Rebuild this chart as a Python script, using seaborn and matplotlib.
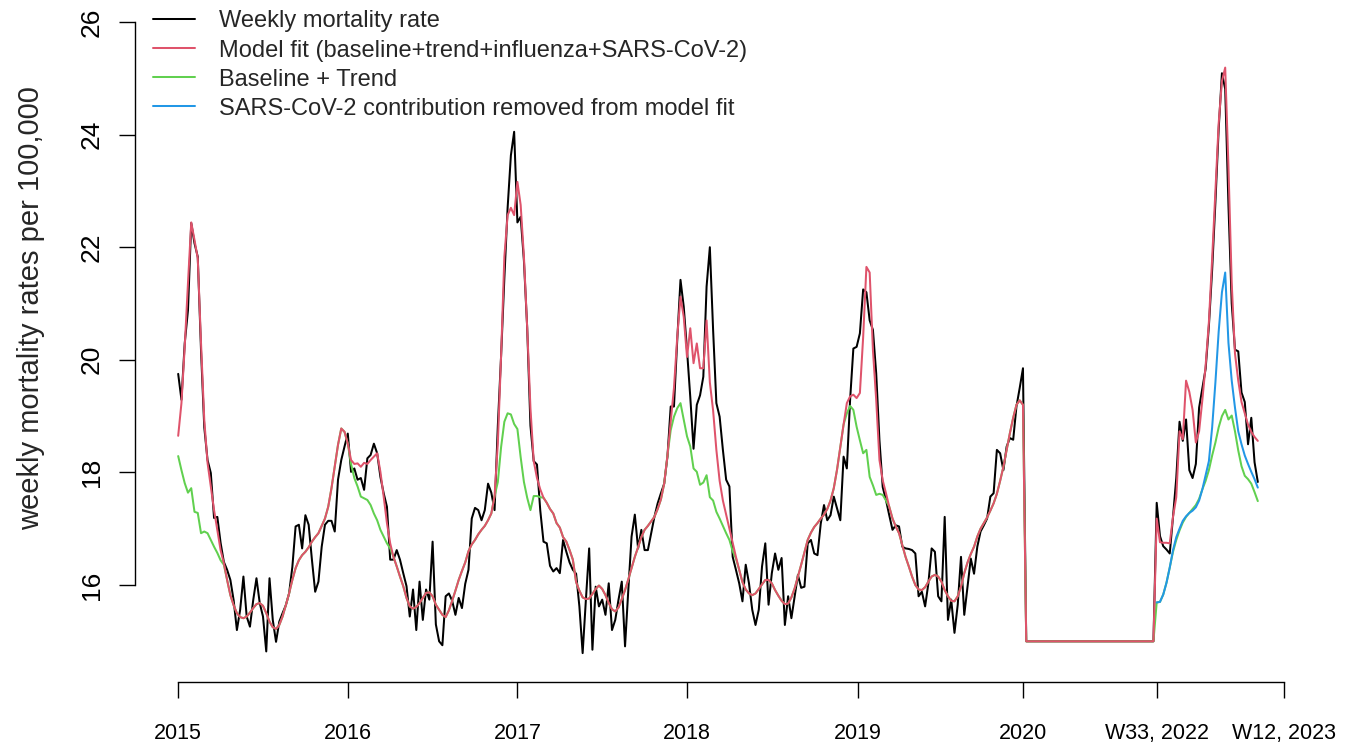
import numpy as np
import pandas as pd
import matplotlib
matplotlib.use("Agg")
import matplotlib.pyplot as plt
import seaborn as sns
from matplotlib.lines import Line2D

# ---------------- data ----------------
# weekly index: 0 = first week of 2015 ... 259 = first week of 2020,
# 260-299 = gap drawn at the floor value, 300 = W33 2022 ... 331
tick_pos = [0, 52, 104, 156, 208.5, 259, 300, 339]
tick_labels = ["2015", "2016", "2017", "2018", "2019", "2020", "W33, 2022", "W12, 2023"]

black_2015_2020 = [
    19.75, 19.29, 20.29, 20.88, 22.43, 22.07, 21.83, 20.17, 18.80, 18.22,
    17.99, 17.19, 17.21, 16.75, 16.41, 16.27, 16.09, 15.73, 15.20, 15.56,
    16.15, 15.44, 15.26, 15.73, 16.12, 15.68, 15.44, 14.82, 16.12, 15.38,
    14.99, 15.35, 15.50, 15.64, 15.85, 16.32, 17.04, 17.07, 16.65, 17.24,
    17.07, 16.45, 15.88, 16.06, 16.68, 17.07, 17.14, 17.14, 16.95, 17.87,
    18.22, 18.46, 18.69, 18.01, 18.07, 17.87, 17.90, 17.69, 18.25, 18.31,
    18.51, 18.34, 17.92, 17.63, 17.39, 16.45, 16.45, 16.62, 16.45, 16.21,
    15.98, 15.44, 15.92, 15.20, 16.06, 15.38, 15.92, 15.74, 16.77, 15.30,
    15.00, 14.93, 15.80, 15.85, 15.72, 15.47, 15.77, 15.59, 16.02, 16.27,
    17.18, 17.37, 17.33, 17.15, 17.33, 17.80, 17.64, 17.33, 18.83, 20.07,
    21.45, 22.70, 23.63, 24.05, 22.44, 22.54, 21.76, 20.57, 18.83, 18.20,
    18.14, 17.33, 16.77, 16.74, 16.34, 16.24, 16.30, 16.21, 16.80, 16.59,
    16.40, 16.27, 16.20, 15.62, 14.79, 15.74, 16.65, 14.85, 15.97, 15.62,
    15.74, 15.47, 16.03, 15.20, 15.38, 15.74, 16.06, 14.91, 15.91, 16.86,
    17.25, 16.65, 16.98, 16.62, 16.62, 16.92, 17.21, 17.45, 17.63, 17.80,
    18.28, 19.17, 19.17, 20.35, 21.42, 20.94, 20.17, 19.34, 18.42, 19.20,
    19.37, 19.70, 21.30, 22.00, 20.53, 19.23, 18.99, 18.40, 17.87, 17.75,
    16.50, 16.27, 16.03, 15.71, 16.36, 16.03, 15.56, 15.29, 15.56, 16.33,
    16.74, 15.65, 16.21, 16.56, 16.27, 16.48, 15.29, 15.80, 15.41, 15.80,
    16.18, 15.95, 15.97, 16.74, 16.80, 16.56, 16.53, 17.09, 17.42, 17.15,
    17.24, 17.57, 17.36, 17.15, 18.28, 18.07, 19.29, 20.20, 20.23, 20.47,
    21.25, 21.20, 20.70, 20.53, 19.76, 18.57, 17.74, 17.51, 17.24, 16.98,
    17.06, 17.04, 16.68, 16.65, 16.64, 16.62, 16.56, 15.80, 15.88, 15.62,
    16.03, 16.65, 16.59, 15.80, 15.71, 17.21, 15.38, 15.74, 15.15, 15.65,
    16.50, 15.47, 15.97, 16.47, 16.20, 16.68, 16.95, 17.06, 17.18, 17.57,
    17.63, 18.40, 18.34, 18.04, 18.46, 18.61, 18.58, 19.17, 19.50, 19.85,
]

model_2015_2020 = [
    18.65, 19.23, 20.23, 21.36, 22.44, 22.13, 21.80, 20.30, 18.93, 18.17,
    17.75, 17.33, 16.98, 16.62, 16.39, 16.09, 15.82, 15.64, 15.50, 15.43,
    15.41, 15.44, 15.51, 15.59, 15.66, 15.68, 15.63, 15.50, 15.35, 15.25,
    15.22, 15.29, 15.44, 15.64, 15.85, 16.09, 16.30, 16.44, 16.53, 16.59,
    16.67, 16.77, 16.85, 16.92, 17.05, 17.18, 17.39, 17.72, 18.10, 18.49,
    18.78, 18.72, 18.51, 18.22, 18.15, 18.16, 18.10, 18.17, 18.15, 18.22,
    18.28, 18.34, 18.01, 17.57, 17.10, 16.74, 16.50, 16.33, 16.15, 15.98,
    15.77, 15.62, 15.58, 15.61, 15.68, 15.77, 15.86, 15.87, 15.80, 15.65,
    15.56, 15.47, 15.43, 15.55, 15.72, 15.90, 16.09, 16.25, 16.40, 16.60,
    16.72, 16.80, 16.90, 16.98, 17.05, 17.15, 17.27, 17.58, 18.52, 20.07,
    21.83, 22.57, 22.70, 22.57, 23.16, 22.75, 21.83, 20.57, 19.14, 18.20,
    17.90, 17.70, 17.55, 17.46, 17.35, 17.27, 17.10, 17.02, 16.85, 16.77,
    16.62, 16.45, 16.05, 15.90, 15.78, 15.75, 15.76, 15.84, 15.93, 15.99,
    15.93, 15.82, 15.68, 15.57, 15.53, 15.60, 15.75, 15.91, 16.10, 16.30,
    16.50, 16.67, 16.85, 16.98, 17.05, 17.13, 17.21, 17.35, 17.52, 17.80,
    18.30, 18.90, 19.50, 20.40, 21.12, 20.76, 20.05, 20.56, 19.94, 20.29,
    19.85, 19.85, 20.70, 19.60, 19.10, 18.40, 17.85, 17.50, 17.25, 17.00,
    16.75, 16.50, 16.27, 16.05, 15.92, 15.85, 15.82, 15.85, 15.93, 16.01,
    16.09, 16.09, 16.03, 15.91, 15.81, 15.72, 15.66, 15.67, 15.78, 15.94,
    16.15, 16.36, 16.58, 16.80, 16.93, 17.03, 17.10, 17.18, 17.25, 17.35,
    17.50, 17.72, 18.05, 18.45, 18.85, 19.23, 19.35, 19.38, 19.32, 19.41,
    20.40, 21.65, 21.55, 20.17, 19.29, 18.22, 17.86, 17.63, 17.39, 17.18,
    17.04, 16.92, 16.71, 16.50, 16.33, 16.15, 16.00, 15.92, 15.91, 15.96,
    16.06, 16.15, 16.18, 16.15, 16.06, 15.91, 15.80, 15.72, 15.71, 15.80,
    15.97, 16.21, 16.40, 16.55, 16.68, 16.86, 17.00, 17.10, 17.20, 17.32,
    17.45, 17.62, 17.85, 18.10, 18.40, 18.70, 18.97, 19.20, 19.28, 19.20,
]

baseline_2015_2020 = [
    18.29, 18.04, 17.81, 17.64, 17.72, 17.30, 17.28, 16.92, 16.95, 16.92,
    16.80, 16.68, 16.57, 16.44, 16.36, 16.09, 15.82, 15.64, 15.50, 15.43,
    15.41, 15.44, 15.51, 15.59, 15.66, 15.68, 15.63, 15.50, 15.35, 15.25,
    15.22, 15.29, 15.44, 15.64, 15.85, 16.09, 16.30, 16.44, 16.53, 16.59,
    16.67, 16.77, 16.85, 16.92, 17.05, 17.18, 17.39, 17.72, 18.10, 18.49,
    18.78, 18.72, 18.51, 18.15, 17.90, 17.75, 17.57, 17.54, 17.51, 17.42,
    17.27, 17.15, 16.98, 16.86, 16.74, 16.65, 16.50, 16.33, 16.15, 15.98,
    15.77, 15.62, 15.58, 15.61, 15.68, 15.77, 15.86, 15.87, 15.80, 15.65,
    15.56, 15.47, 15.43, 15.55, 15.72, 15.90, 16.09, 16.25, 16.40, 16.60,
    16.72, 16.80, 16.90, 16.98, 17.05, 17.15, 17.27, 17.58, 17.83, 18.45,
    18.90, 19.05, 19.03, 18.86, 18.77, 18.27, 17.83, 17.55, 17.33, 17.58,
    17.58, 17.56, 17.55, 17.46, 17.35, 17.27, 17.10, 17.02, 16.85, 16.77,
    16.62, 16.45, 16.05, 15.90, 15.78, 15.75, 15.76, 15.84, 15.93, 15.99,
    15.93, 15.82, 15.68, 15.57, 15.53, 15.60, 15.75, 15.91, 16.10, 16.30,
    16.50, 16.67, 16.85, 16.98, 17.05, 17.13, 17.21, 17.35, 17.52, 17.80,
    18.30, 18.75, 18.99, 19.14, 19.23, 18.93, 18.64, 18.46, 18.07, 18.01,
    17.78, 17.82, 17.95, 17.56, 17.50, 17.30, 17.18, 17.05, 16.92, 16.80,
    16.60, 16.47, 16.27, 16.05, 15.92, 15.85, 15.82, 15.85, 15.93, 16.01,
    16.09, 16.09, 16.03, 15.91, 15.81, 15.72, 15.66, 15.67, 15.78, 15.94,
    16.15, 16.36, 16.58, 16.80, 16.93, 17.03, 17.10, 17.18, 17.25, 17.35,
    17.50, 17.72, 18.05, 18.45, 18.85, 19.05, 19.18, 19.11, 18.81, 18.57,
    18.34, 18.40, 17.92, 17.77, 17.60, 17.62, 17.60, 17.50, 17.39, 17.18,
    17.04, 16.92, 16.71, 16.50, 16.33, 16.15, 16.00, 15.92, 15.91, 15.96,
    16.06, 16.15, 16.18, 16.15, 16.06, 15.91, 15.80, 15.72, 15.71, 15.80,
    15.97, 16.21, 16.40, 16.55, 16.68, 16.86, 17.00, 17.10, 17.20, 17.32,
    17.45, 17.62, 17.85, 18.10, 18.40, 18.70, 18.97, 19.20, 19.28, 19.20,
]

# gap between 2020 and W33 2022, drawn flat at the floor value
gap_value = 15.0
gap_weeks = 40

black_2022_2023 = [
    17.46, 16.87, 16.69, 16.63, 16.56, 17.21, 17.90, 18.90, 18.56, 18.94,
    18.04, 17.90, 18.15, 19.15, 19.49, 19.84, 20.60, 21.60, 22.80, 24.10,
    25.09, 24.81, 22.74, 21.00, 20.18, 20.15, 19.42, 19.25, 18.50, 18.97,
    18.18, 17.83,
]
model_2022_2023 = [
    17.18, 16.76, 16.75, 16.75, 16.74, 17.21, 17.56, 18.73, 18.59, 19.63,
    19.43, 19.11, 18.53, 18.73, 19.29, 19.90, 20.67, 21.80, 23.00, 24.20,
    24.95, 25.19, 23.43, 21.36, 20.11, 19.63, 19.25, 19.05, 18.85, 18.72,
    18.63, 18.56,
]
baseline_2022_2023 = [
    15.69, 15.70, 15.83, 16.04, 16.31, 16.59, 16.80, 16.97, 17.11, 17.21,
    17.28, 17.35, 17.42, 17.53, 17.70, 17.85, 18.04, 18.30, 18.53, 18.80,
    19.00, 19.11, 18.94, 19.01, 18.73, 18.39, 18.11, 17.94, 17.88, 17.80,
    17.65, 17.49,
]
nocovid_2022_2023 = [
    15.69, 15.70, 15.83, 16.04, 16.31, 16.62, 16.85, 17.00, 17.14, 17.22,
    17.28, 17.32, 17.38, 17.50, 17.70, 17.95, 18.20, 18.80, 19.60, 20.50,
    21.20, 21.55, 20.30, 19.63, 19.15, 18.73, 18.50, 18.30, 18.15, 18.01,
    17.88, 17.73,
]

series_labels = [
    "Weekly mortality rate",
    "Model fit (baseline+trend+influenza+SARS-CoV-2)",
    "Baseline + Trend",
    "SARS-CoV-2 contribution removed from model fit",
]
series_colors = ["black", "#DF536B", "#61D04F", "#2297E6"]

# ---------------- assemble ----------------
gap = [gap_value] * gap_weeks
black = black_2015_2020 + gap + black_2022_2023
model = model_2015_2020 + gap + model_2022_2023
baseline = baseline_2015_2020 + gap + baseline_2022_2023
weeks = np.arange(len(black))
weeks_last = np.arange(len(black_2015_2020) + gap_weeks, len(black))

df_main = pd.DataFrame({"week": weeks, "black": black, "model": model, "baseline": baseline})
df_last = pd.DataFrame({"week": weeks_last, "nocovid": nocovid_2022_2023})

# ---------------- figure ----------------
sns.set_theme(style="ticks")
plt.rcParams["font.family"] = ["Liberation Sans", "DejaVu Sans"]

W, H = 1352, 742
fig = plt.figure(figsize=(W / 100, H / 100), dpi=100)
ax_bottom_px = 681.7
ax = fig.add_axes([135 / W, (H - ax_bottom_px) / H, (1301 - 135) / W, ax_bottom_px / H])

lw = 1.45
sns.lineplot(data=df_main, x="week", y="black", ax=ax, color=series_colors[0],
             linewidth=lw, estimator=None, sort=False, legend=False, zorder=2)
sns.lineplot(data=df_main, x="week", y="baseline", ax=ax, color=series_colors[2],
             linewidth=lw, estimator=None, sort=False, legend=False, zorder=3)
sns.lineplot(data=df_last, x="week", y="nocovid", ax=ax, color=series_colors[3],
             linewidth=lw, estimator=None, sort=False, legend=False, zorder=4)
sns.lineplot(data=df_main, x="week", y="model", ax=ax, color=series_colors[1],
             linewidth=lw, estimator=None, sort=False, legend=False, zorder=5)

n_last = len(black) - 1
pad_x = 0.04 * n_last
ax.set_xlim(-pad_x, n_last + pad_x)
y16_px, y26_px = 585.0, 22.0
ppu = (y16_px - y26_px) / 10.0
ax.set_ylim(16 - (ax_bottom_px - y16_px) / ppu, 26 + y26_px / ppu)

for s in ["top", "right"]:
    ax.spines[s].set_visible(False)
ax.spines["left"].set_bounds(16, 26)
ax.spines["bottom"].set_bounds(tick_pos[0], tick_pos[-1])
for s in ["left", "bottom"]:
    ax.spines[s].set_linewidth(1.0)
    ax.spines[s].set_color("black")

ax.set_xticks(tick_pos)
ax.set_xticklabels(tick_labels)
ax.set_yticks([16, 18, 20, 22, 24, 26])
ax.set_yticklabels(["16", "18", "20", "22", "24", "26"], rotation=90, va="center")
ax.tick_params(axis="both", direction="out", length=11.5, width=1.0, colors="black")
ax.tick_params(axis="x", pad=18, labelsize=15.5)
ax.tick_params(axis="y", pad=11, labelsize=19)
ax.set_xlabel("")
ax.set_ylabel("")
ax.grid(False)

fig.text(31 / W, 1 - 308 / H, "weekly mortality rates per 100,000", rotation=90,
         ha="center", va="center", fontsize=21)

handles = [Line2D([0], [0], color=c, lw=lw) for c in series_colors]
leg = ax.legend(handles, series_labels, loc="upper left",
                bbox_to_anchor=(153 / W, 1 - 10.5 / H), bbox_transform=fig.transFigure,
                frameon=False, fontsize=17, handlelength=1.78, handletextpad=1.0,
                labelspacing=0.3, borderpad=0, borderaxespad=0)

fig.savefig("out.png", dpi=100)
